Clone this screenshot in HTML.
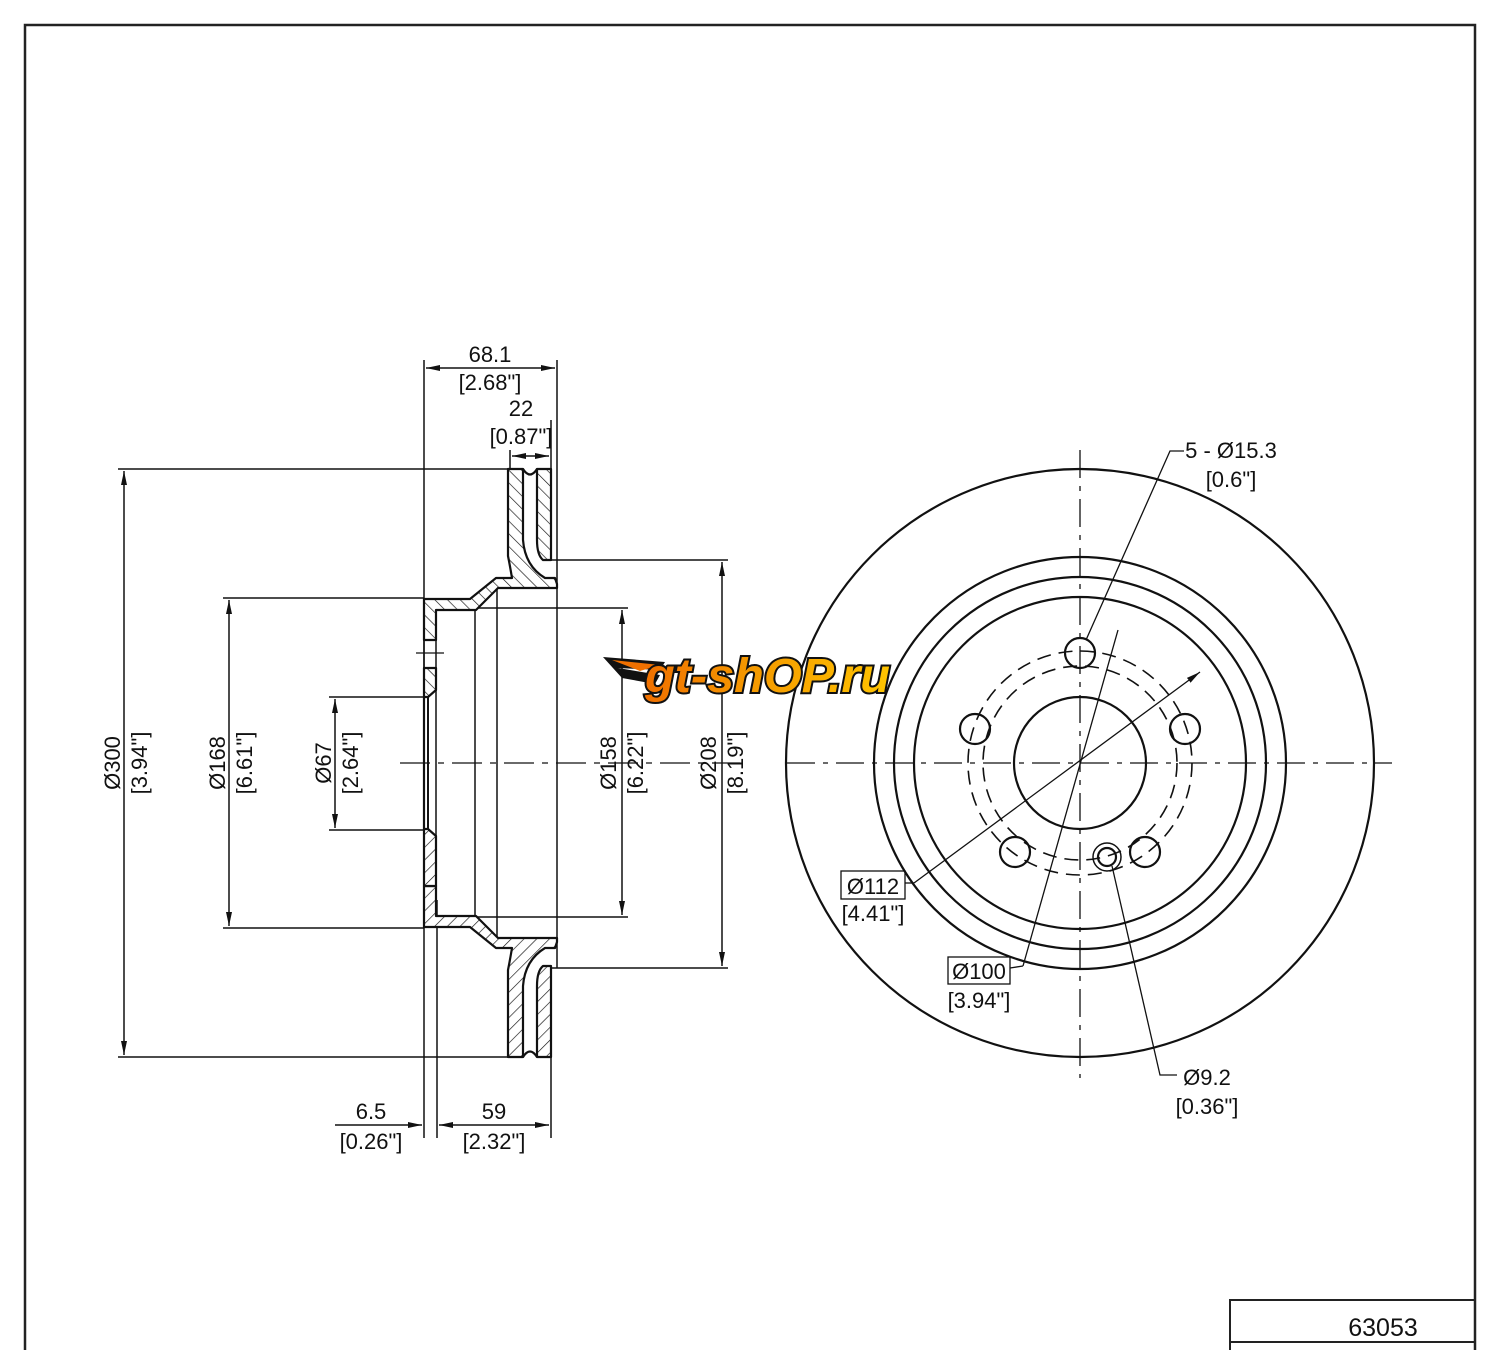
<!DOCTYPE html>
<html><head><meta charset="utf-8"><style>
html,body{margin:0;padding:0;background:#fff;}
svg{display:block;}
text{font-family:"Liberation Sans Narrow","Liberation Sans",sans-serif;font-size:22px;fill:#111;}
</style></head><body>
<svg width="1500" height="1350" viewBox="0 0 1500 1350" xmlns="http://www.w3.org/2000/svg">
<defs>
<pattern id="h" patternUnits="userSpaceOnUse" width="9" height="9" patternTransform="rotate(-45)">
<rect width="9" height="9" fill="#fff"/><line x1="0" y1="0" x2="0" y2="9" stroke="#111" stroke-width="1.3"/></pattern>
<marker id="a" markerWidth="14" markerHeight="8" refX="14" refY="4" orient="auto" markerUnits="userSpaceOnUse"><path d="M0,1 L14,4 L0,7 Z" fill="#111"/></marker>
<marker id="b" markerWidth="14" markerHeight="8" refX="0" refY="4" orient="auto" markerUnits="userSpaceOnUse"><path d="M14,1 L0,4 L14,7 Z" fill="#111"/></marker>
<linearGradient id="lg" x1="0" x2="1"><stop offset="0" stop-color="#f07000"/><stop offset="0.45" stop-color="#f59a00"/><stop offset="1" stop-color="#ffc400"/></linearGradient>
</defs>
<path d="M25,1350 L25,25 L1475,25 L1475,1350" fill="none" stroke="#222" stroke-width="2.5"/>
<rect x="1230" y="1300" width="245" height="42" fill="none" stroke="#222" stroke-width="2"/>
<line x1="1230" y1="1342" x2="1230" y2="1350" stroke="#222" stroke-width="2"/>
<text x="1383" y="1336" text-anchor="middle" style="font-size:25px">63053</text>

<g stroke="#111" fill="none" stroke-width="1.5">
<line x1="400" y1="763" x2="740" y2="763" stroke-dasharray="30,8,6,8" stroke-width="1.2"/>
<line x1="118" y1="469" x2="508" y2="469"/>
<line x1="118" y1="1057" x2="508" y2="1057"/>
<line x1="223" y1="598" x2="424" y2="598"/>
<line x1="223" y1="928" x2="424" y2="928"/>
<line x1="329" y1="697" x2="424" y2="697"/>
<line x1="329" y1="830" x2="424" y2="830"/>
<line x1="475" y1="608" x2="628" y2="608"/>
<line x1="475" y1="917" x2="628" y2="917"/>
<line x1="551" y1="560" x2="728" y2="560"/>
<line x1="551" y1="968" x2="728" y2="968"/>
<line x1="424" y1="360" x2="424" y2="1138"/>
<line x1="437" y1="900" x2="437" y2="1138"/>
<line x1="557" y1="360" x2="557" y2="588"/>
<line x1="557" y1="938" x2="557" y2="968"/>
<line x1="510" y1="450" x2="510" y2="469"/>
<line x1="551" y1="420" x2="551" y2="469"/>
<line x1="551" y1="1057" x2="551" y2="1138"/>
<line x1="124" y1="471" x2="124" y2="1055" marker-start="url(#b)" marker-end="url(#a)"/>
<line x1="229" y1="600" x2="229" y2="926" marker-start="url(#b)" marker-end="url(#a)"/>
<line x1="335" y1="699" x2="335" y2="828" marker-start="url(#b)" marker-end="url(#a)"/>
<line x1="622" y1="610" x2="622" y2="915" marker-start="url(#b)" marker-end="url(#a)"/>
<line x1="722" y1="562" x2="722" y2="966" marker-start="url(#b)" marker-end="url(#a)"/>
<line x1="426" y1="368" x2="555" y2="368" marker-start="url(#b)" marker-end="url(#a)"/>
<line x1="512" y1="456" x2="549" y2="456" marker-start="url(#b)" marker-end="url(#a)"/>
<line x1="335" y1="1125" x2="422" y2="1125" marker-end="url(#a)"/>
<line x1="439" y1="1125" x2="549" y2="1125" marker-start="url(#b)" marker-end="url(#a)"/>
<line x1="475" y1="610" x2="475" y2="917"/>
<line x1="497" y1="588" x2="497" y2="938"/>
<line x1="557" y1="588" x2="557" y2="938"/>
</g>

<g stroke="#111" stroke-width="2.2" fill="url(#h)" stroke-linejoin="round">
<path d="M508,469 L523,469 L523,540 Q525,566 545,578 L555,578 L557,584 L557,588 L498,588 L476,610 L436,610 L436,640 L424,640 L424,599 L470,599 L496,578 L512,578 Q510,566 508,556 Z"/>
<path d="M537,469 L551,469 L551,560 L543,560 Q537,555 537,540 Z"/>
<path d="M523,469 Q530,480 537,469" fill="none"/>
<path d="M424,668 L436,668 L436,690 L428,697 L424,697 Z"/>
<line x1="416" y1="653" x2="444" y2="653" stroke-width="1.3"/>
<line x1="424" y1="640" x2="424" y2="668" stroke-width="1.5"/>
<line x1="436" y1="640" x2="436" y2="668" stroke-width="1.5"/>
<line x1="424" y1="697" x2="424" y2="763" stroke-width="2.2"/>
<line x1="428" y1="697" x2="428" y2="763" stroke-width="2"/>
<line x1="436" y1="690" x2="436" y2="763" stroke-width="1.5"/>
</g>
<g transform="matrix(1 0 0 -1 0 1526)" stroke="#111" stroke-width="2.2" fill="url(#h)" stroke-linejoin="round">
<path d="M508,469 L523,469 L523,540 Q525,566 545,578 L555,578 L557,584 L557,588 L498,588 L476,610 L436,610 L436,640 L424,640 L424,599 L470,599 L496,578 L512,578 Q510,566 508,556 Z"/>
<path d="M537,469 L551,469 L551,560 L543,560 Q537,555 537,540 Z"/>
<path d="M523,469 Q530,480 537,469" fill="none"/>
<path d="M424,640 L436,640 L436,690 L428,697 L424,697 Z"/>
<line x1="424" y1="697" x2="424" y2="763" stroke-width="2.2"/>
<line x1="428" y1="697" x2="428" y2="763" stroke-width="2"/>
<line x1="436" y1="690" x2="436" y2="763" stroke-width="1.5"/>
</g>

<text x="490" y="362" text-anchor="middle">68.1</text>
<text x="490" y="390" text-anchor="middle">[2.68"]</text>
<text x="521" y="416" text-anchor="middle">22</text>
<text x="521" y="444" text-anchor="middle">[0.87"]</text>
<text x="371" y="1119" text-anchor="middle">6.5</text>
<text x="371" y="1149" text-anchor="middle">[0.26"]</text>
<text x="494" y="1119" text-anchor="middle">59</text>
<text x="494" y="1149" text-anchor="middle">[2.32"]</text>
<g text-anchor="middle">
<text transform="translate(120,763) rotate(-90)">Ø300</text>
<text transform="translate(147,763) rotate(-90)">[3.94"]</text>
<text transform="translate(225,763) rotate(-90)">Ø168</text>
<text transform="translate(252,763) rotate(-90)">[6.61"]</text>
<text transform="translate(331,763) rotate(-90)">Ø67</text>
<text transform="translate(358,763) rotate(-90)">[2.64"]</text>
<text transform="translate(616,763) rotate(-90)">Ø158</text>
<text transform="translate(643,763) rotate(-90)">[6.22"]</text>
<text transform="translate(716,763) rotate(-90)">Ø208</text>
<text transform="translate(743,763) rotate(-90)">[8.19"]</text>
</g>

<g stroke="#111" fill="none" stroke-width="2.2">
<circle cx="1080" cy="763" r="294"/>
<circle cx="1080" cy="763" r="206"/>
<circle cx="1080" cy="763" r="186"/>
<circle cx="1080" cy="763" r="166"/>
<circle cx="1080" cy="763" r="66"/>
<circle cx="1080" cy="653" r="15"/>
<circle cx="1185" cy="729" r="15"/>
<circle cx="1145" cy="852" r="15"/>
<circle cx="1015" cy="852" r="15"/>
<circle cx="975" cy="729" r="15"/>
<circle cx="1107" cy="857" r="9"/>
<circle cx="1107" cy="857" r="14" stroke-width="1.5"/>
<circle cx="1080" cy="763" r="97" stroke-width="1.6" stroke-dasharray="14,8"/>
<circle cx="1080" cy="763" r="112" stroke-width="1.6" stroke-dasharray="14,8"/>
</g>
<g stroke="#111" fill="none" stroke-width="1.3">
<line x1="1080" y1="450" x2="1080" y2="1078" stroke-dasharray="28,8,5,8"/>
<line x1="787" y1="763" x2="1392" y2="763" stroke-dasharray="28,8,5,8"/>
<polyline points="905,883 914,883"/>
<line x1="914" y1="883" x2="1200" y2="672" marker-end="url(#a)"/>
<polyline points="1010,968 1023,966"/>
<line x1="1023" y1="966" x2="1118" y2="630"/>
<polyline points="1184,451 1170,451 1086,640"/>
<polyline points="1177,1075 1160,1075 1112,866"/>
</g>
<rect x="841" y="871" width="64" height="28" fill="none" stroke="#111" stroke-width="1.3"/>
<text x="873" y="894" text-anchor="middle">Ø112</text>
<text x="873" y="921" text-anchor="middle">[4.41"]</text>
<rect x="948" y="957" width="62" height="27" fill="none" stroke="#111" stroke-width="1.3"/>
<text x="979" y="979" text-anchor="middle">Ø100</text>
<text x="979" y="1008" text-anchor="middle">[3.94"]</text>
<text x="1231" y="458" text-anchor="middle">5 - Ø15.3</text>
<text x="1231" y="487" text-anchor="middle">[0.6"]</text>
<text x="1207" y="1085" text-anchor="middle">Ø9.2</text>
<text x="1207" y="1114" text-anchor="middle">[0.36"]</text>

<g>
<path d="M603,657 L665,662 L660,670 L618,668 L660,675 L655,684 L622,678 Z" fill="#111"/>
<path d="M612,660 L660,665 L640,671 Z" fill="#f07000"/>
<text x="645" y="692" textLength="245" lengthAdjust="spacingAndGlyphs" style="font-family:'Liberation Sans',sans-serif;font-size:48px;font-weight:bold;font-style:italic;fill:url(#lg);stroke:#111;stroke-width:4;paint-order:stroke;">gt-shOP.ru</text>
</g>
</svg>
</body></html>
